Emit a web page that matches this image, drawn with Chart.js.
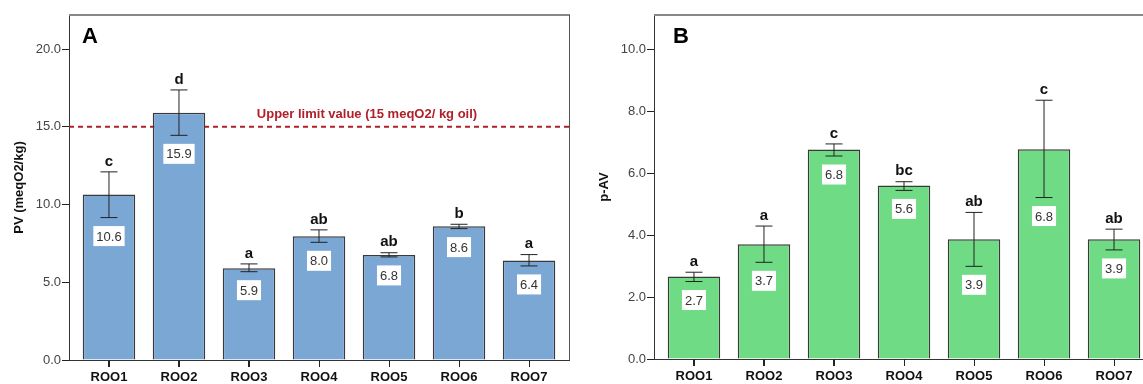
<!DOCTYPE html>
<html>
<head>
<meta charset="utf-8">
<script src="https://cdn.jsdelivr.net/npm/chart.js@4.4.1/dist/chart.umd.min.js"></script>
<style>
  html, body { margin: 0; padding: 0; background: #fff; overflow: hidden; }
  #wrap { position: relative; width: 1143px; height: 384px; overflow: hidden; }
  canvas { position: absolute; top: 0; }
</style>
</head>
<body>
<div id="wrap">
  <canvas id="chart-a" width="580" height="384" style="left:0"></canvas>
  <canvas id="chart-b" width="580" height="384" style="left:585px"></canvas>
</div>
<script>
// samples
const categories = ['ROO1', 'ROO2', 'ROO3', 'ROO4', 'ROO5', 'ROO6', 'ROO7'];

// panel A - peroxide value
const pvValues = [10.64, 15.9, 5.9, 7.96, 6.76, 8.6, 6.4];
const pvErrLow = [9.16, 14.45, 5.68, 7.57, 6.63, 8.45, 6.05];
const pvErrHigh = [12.1, 17.37, 6.18, 8.37, 6.9, 8.73, 6.78];
const pvLetters = ['c', 'd', 'a', 'ab', 'ab', 'b', 'a'];
const pvTicks = [0, 5, 10, 15, 20];
const pvLimit = 15;

// panel B - p-anisidine value
const pavValues = [2.66, 3.7, 6.76, 5.6, 3.86, 6.77, 3.86];
const pavErrLow = [2.5, 3.12, 6.55, 5.44, 2.99, 5.21, 3.52];
const pavErrHigh = [2.8, 4.29, 6.94, 5.72, 4.73, 8.35, 4.19];
const pavLetters = ['a', 'a', 'c', 'bc', 'ab', 'c', 'ab'];
const pavTicks = [0, 2, 4, 6, 8, 10];

const FONT = "'Liberation Sans', Arial, sans-serif";

const overlay = {
   id: 'overlay',
   beforeDatasetsDraw(chart, args, opts) {
      if (opts.limit == null) return;
      const ctx = chart.ctx;
      const area = chart.chartArea;
      const y = chart.scales.y.getPixelForValue(opts.limit);
      ctx.save();
      ctx.strokeStyle = '#b0202a';
      ctx.lineWidth = 2;
      ctx.setLineDash([5, 4]);
      ctx.beginPath();
      ctx.moveTo(area.left, y);
      ctx.lineTo(area.right, y);
      ctx.stroke();
      ctx.setLineDash([]);
      ctx.fillStyle = '#b0202a';
      ctx.font = 'bold 13px ' + FONT;
      ctx.textAlign = 'center';
      ctx.textBaseline = 'middle';
      ctx.fillText(opts.limitText, area.left + 298, y - 12);
      ctx.restore();
   },
   afterDatasetsDraw(chart, args, opts) {
      const ctx = chart.ctx;
      const xs = chart.scales.x;
      const ys = chart.scales.y;
      const values = chart.data.datasets[0].data;
      ctx.save();
      values.forEach((pt, i) => {
         const x = xs.getPixelForValue(pt.x);
         const yHi = ys.getPixelForValue(opts.high[i]);
         const yLo = ys.getPixelForValue(opts.low[i]);
         // error bar
         ctx.strokeStyle = '#222';
         ctx.lineWidth = 1;
         ctx.beginPath();
         ctx.moveTo(x, yHi); ctx.lineTo(x, yLo);
         ctx.moveTo(x - 8.5, yHi); ctx.lineTo(x + 8.5, yHi);
         ctx.moveTo(x - 8.5, yLo); ctx.lineTo(x + 8.5, yLo);
         ctx.stroke();
         // significance letter
         ctx.fillStyle = '#111';
         ctx.font = 'bold 15px ' + FONT;
         ctx.textAlign = 'center';
         ctx.textBaseline = 'middle';
         ctx.fillText(opts.letters[i], x, yHi - 10.5);
         // value box
         const txt = pt.y.toFixed(1);
         ctx.font = '13px ' + FONT;
         const w = ctx.measureText(txt).width + 6;
         const cy = yLo + 18.5;
         ctx.fillStyle = '#fff';
         ctx.fillRect(x - w / 2, cy - 10, w, 20);
         ctx.fillStyle = '#333';
         ctx.fillText(txt, x, cy + 1);
      });
      ctx.restore();
   },
   afterDraw(chart, args, opts) {
      const ctx = chart.ctx;
      const area = chart.chartArea;
      const xs = chart.scales.x;
      ctx.save();
      ctx.strokeStyle = '#888';
      ctx.lineWidth = 2;
      ctx.beginPath();
      ctx.moveTo(area.left, area.top);
      ctx.lineTo(area.right + 1, area.top);
      ctx.stroke();
      ctx.strokeStyle = '#555';
      ctx.lineWidth = 1;
      ctx.beginPath();
      ctx.moveTo(area.right + 0.5, area.top);
      ctx.lineTo(area.right + 0.5, area.bottom);
      ctx.stroke();
      // category tick marks under the axis
      ctx.strokeStyle = '#222';
      ctx.beginPath();
      categories.forEach((c, i) => {
         const x = Math.round(xs.getPixelForValue(i)) + 0.5;
         ctx.moveTo(x, area.bottom);
         ctx.lineTo(x, area.bottom + 7);
      });
      ctx.stroke();
      ctx.fillStyle = '#000';
      ctx.font = 'bold 22px ' + FONT;
      ctx.textAlign = 'left';
      ctx.textBaseline = 'alphabetic';
      ctx.fillText(opts.panel, area.left + opts.panelX, area.top + 28);
      ctx.restore();
   }
};

function makeChart(id, cfg) {
   new Chart(document.getElementById(id), {
      type: 'bar',
      data: {
         datasets: [{
            data: cfg.values.map((v, i) => ({ x: i, y: v })),
            backgroundColor: cfg.color,
            borderColor: '#3a3a3a',
            borderWidth: 1.5,
            barPercentage: 0.75,
            categoryPercentage: 1
         }]
      },
      options: {
         responsive: false,
         animation: false,
         layout: { padding: { top: 15, right: 11, left: 0, bottom: 0 } },
         scales: {
            x: {
               type: 'linear',
               offset: false,
               min: -0.571,
               max: 6.571,
               afterBuildTicks: s => { s.ticks = categories.map((c, i) => ({ value: i })); },
               afterFit: s => { s.height = cfg.xHeight; },
               grid: {
                  offset: false, drawOnChartArea: false, drawTicks: true, tickLength: 7,
                  color: '#333', tickColor: '#222', tickWidth: 1
               },
               border: { display: true, color: '#333', width: 1 },
               ticks: {
                  autoSkip: false,
                  maxRotation: 0,
                  padding: 3,
                  color: '#111',
                  font: { family: FONT, size: 13, weight: 'bold' },
                  callback: (v, i) => categories[i]
               }
            },
            y: {
               min: 0,
               max: cfg.max,
               afterBuildTicks: s => { s.ticks = cfg.ticks.map(v => ({ value: v })); },
               afterFit: s => { s.width = 69; },
               grid: {
                  drawOnChartArea: false, drawTicks: true, tickLength: 7,
                  color: '#333', tickColor: '#222', tickWidth: 1
               },
               border: { display: true, color: '#333', width: 1 },
               ticks: {
                  padding: 1,
                  color: '#444',
                  font: { family: FONT, size: 13 },
                  callback: v => v.toFixed(1)
               },
               title: {
                  display: true,
                  text: cfg.title,
                  color: '#111',
                  font: { family: FONT, size: 13, weight: 'bold' },
                  padding: { top: 12, bottom: 0 }
               }
            }
         },
         plugins: {
            legend: { display: false },
            tooltip: { enabled: false },
            overlay: {
               low: cfg.low,
               high: cfg.high,
               letters: cfg.letters,
               limit: cfg.limit,
               limitText: cfg.limitText,
               panel: cfg.panel,
               panelX: cfg.panelX
            }
         }
      },
      plugins: [overlay]
   });
}

makeChart('chart-a', {
   values: pvValues, low: pvErrLow, high: pvErrHigh, letters: pvLetters,
   ticks: pvTicks, max: 22.19, title: 'PV (meqO2/kg)', color: '#7ba7d5',
   limit: pvLimit, limitText: 'Upper limit value (15 meqO2/ kg oil)',
   panel: 'A', panelX: 13, xHeight: 24
});

makeChart('chart-b', {
   values: pavValues, low: pavErrLow, high: pavErrHigh, letters: pavLetters,
   ticks: pavTicks, max: 11.1, title: 'p-AV', color: '#6fdc85',
   limit: null, limitText: '',
   panel: 'B', panelX: 19, xHeight: 25
});
</script>
</body>
</html>
